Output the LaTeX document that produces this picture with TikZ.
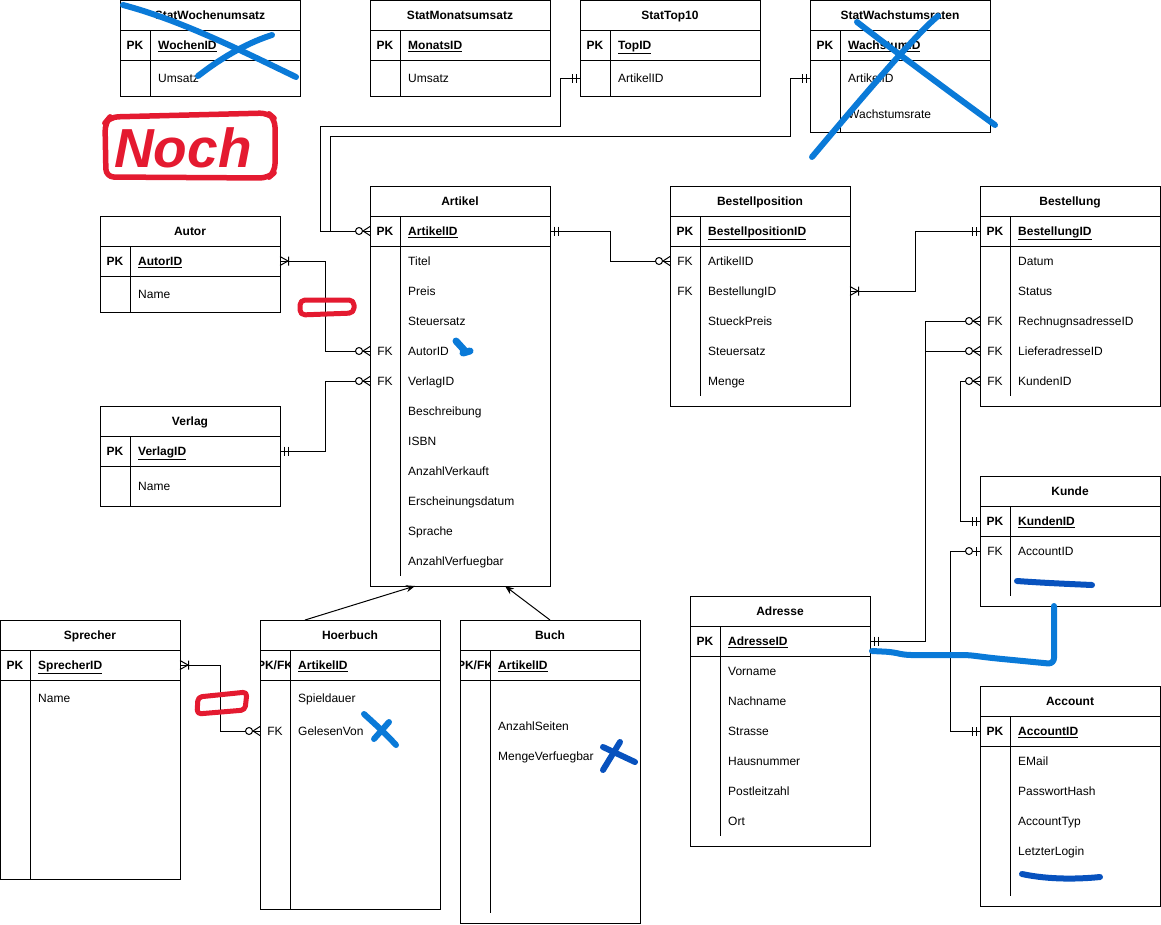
\documentclass[tikz,border=0pt]{standalone}
\usepackage{fontspec}
\setmainfont{Liberation Sans}
\usetikzlibrary{arrows.meta,calc}

\definecolor{penblue}{RGB}{10,122,216}
\definecolor{pendark}{RGB}{8,82,190}
\definecolor{penred}{RGB}{228,26,48}

\tikzset{
  er/.style={line width=1pt, black},
  frame/.style={draw, line width=1pt, inner sep=0pt, outer sep=0pt, minimum width=180pt, anchor=north west},
  rowbox/.style={inner sep=0pt, outer sep=0pt, minimum width=180pt, minimum height=30pt},
  titletxt/.style={font=\fontsize{12}{14}\selectfont\bfseries, inner sep=0pt, anchor=base},
  keytxt/.style={font=\fontsize{12}{14}\selectfont, inner sep=0pt, anchor=base},
  fldtxt/.style={font=\fontsize{12}{14}\selectfont, inner sep=0pt, anchor=base west},
  pen/.style={line width=6pt, line cap=round, line join=round},
}

\newcommand{\entity}[6]{%
  \node[frame, minimum height=#4pt] (#1) at (#2,#3) {};
  \node[titletxt] (#1-t) at (#2+90,#3+19.3) {#6};
  \draw[er] (#2,#3+30) -- ++(180,0) (#2,#3+60) -- ++(180,0) (#2+30,#3+30) -- (#2+30,#5);
}
\newcommand{\fld}[5]{%
  \node[rowbox] (#1) at (#2+90,#3) {};
  \node[keytxt] (#1-k) at (#2+15,#3+4.3) {#4};
  \node[fldtxt] (#1-f) at (#2+38,#3+4.3) {#5};
}
\newcommand{\pkfld}[5]{\fld{#1}{#2}{#3}{\textbf{#4}}{\textbf{\underline{#5}}}}
\newcommand{\pkfkfld}[4]{%
  \node[rowbox] (#1) at (#2+90,#3) {};
  \begin{scope}
    \clip (#2,#3-15) rectangle (#2+30,#3+15);
    \node[keytxt] (#1-k) at (#2+15,#3+4.3) {\textbf{PK/FK}};
  \end{scope}
  \node[fldtxt] (#1-f) at (#2+38,#3+4.3) {\textbf{\underline{#4}}};
}
\newcommand{\fields}[4]{%
  \foreach \k/\f [count=\i from 0] in {#4} {\fld{#1-\f}{#2}{#3+30*\i}{\k}{\f}}
}

\newcommand{\zeromany}[2]{\begin{scope}[shift={(#1)},rotate=#2]
  \draw[er] (0,4.5) -- (7,0) -- (0,-4.5);
  \draw[er,fill=white] (11,0) circle (3.5);
\end{scope}}
\newcommand{\onemany}[2]{\begin{scope}[shift={(#1)},rotate=#2]
  \draw[er] (0,4.5) -- (8,0) -- (0,-4.5) (8.5,-4.5) -- (8.5,4.5);
\end{scope}}
\newcommand{\mandone}[2]{\begin{scope}[shift={(#1)},rotate=#2]
  \draw[er] (4,-4.5) -- (4,4.5) (8,-4.5) -- (8,4.5);
\end{scope}}
\newcommand{\zeroone}[2]{\begin{scope}[shift={(#1)},rotate=#2]
  \draw[er] (4,-4.5) -- (4,4.5);
  \draw[er,fill=white] (11,0) circle (3.5);
\end{scope}}

\begin{document}
\begin{tikzpicture}[x=1pt,y=-1pt]
\useasboundingbox (0,0) rectangle (1161,924);

\entity{wochen}{120}{0}{96}{96}{StatWochenumsatz}
\pkfld{wochen-pk}{120}{45}{PK}{WochenID}
\fld{wochen-Umsatz}{120}{78}{}{Umsatz}

\entity{monat}{370}{0}{96}{96}{StatMonatsumsatz}
\pkfld{monat-pk}{370}{45}{PK}{MonatsID}
\fld{monat-Umsatz}{370}{78}{}{Umsatz}

\entity{top10}{580}{0}{96}{96}{StatTop10}
\pkfld{top10-pk}{580}{45}{PK}{TopID}
\fld{top10-ArtikelID}{580}{78}{}{ArtikelID}

\entity{wachs}{810}{0}{132}{132}{StatWachstumsraten}
\pkfld{wachs-pk}{810}{45}{PK}{WachstumID}
\fld{wachs-ArtikelID}{810}{78}{}{ArtikelID}
\fld{wachs-Wachstumsrate}{810}{114}{}{Wachstumsrate}

\entity{art}{370}{186}{400}{576}{Artikel}
\pkfld{art-pk}{370}{231}{PK}{ArtikelID}
\fields{art}{370}{261}{/Titel,/Preis,/Steuersatz,FK/AutorID,FK/VerlagID,/Beschreibung,/ISBN,/AnzahlVerkauft,/Erscheinungsdatum,/Sprache,/AnzahlVerfuegbar}

\entity{autor}{100}{216}{96}{312}{Autor}
\pkfld{autor-pk}{100}{261}{PK}{AutorID}
\fld{autor-Name}{100}{294}{}{Name}

\entity{verlag}{100}{406}{100}{506}{Verlag}
\pkfld{verlag-pk}{100}{451}{PK}{VerlagID}
\fld{verlag-Name}{100}{486}{}{Name}

\entity{pos}{670}{186}{220}{396}{Bestellposition}
\pkfld{pos-pk}{670}{231}{PK}{BestellpositionID}
\fields{pos}{670}{261}{FK/ArtikelID,FK/BestellungID,/StueckPreis,/Steuersatz,/Menge}

\entity{bst}{980}{186}{220}{396}{Bestellung}
\pkfld{bst-pk}{980}{231}{PK}{BestellungID}
\fields{bst}{980}{261}{/Datum,/Status,FK/RechnugnsadresseID,FK/LieferadresseID,FK/KundenID}

\entity{kd}{980}{476}{130}{596}{Kunde}
\pkfld{kd-pk}{980}{521}{PK}{KundenID}
\fld{kd-AccountID}{980}{551}{FK}{AccountID}

\entity{adr}{690}{596}{250}{836}{Adresse}
\pkfld{adr-pk}{690}{641}{PK}{AdresseID}
\fields{adr}{690}{671}{/Vorname,/Nachname,/Strasse,/Hausnummer,/Postleitzahl,/Ort}

\entity{acc}{980}{686}{220}{896}{Account}
\pkfld{acc-pk}{980}{731}{PK}{AccountID}
\fields{acc}{980}{761}{/EMail,/PasswortHash,/AccountTyp,/LetzterLogin}

\entity{spr}{0}{620}{259}{879}{Sprecher}
\pkfld{spr-pk}{0}{665}{PK}{SprecherID}
\fld{spr-Name}{0}{698}{}{Name}

\entity{hb}{260}{620}{289}{909}{Hoerbuch}
\pkfkfld{hb-pk}{260}{665}{ArtikelID}
\fld{hb-Spieldauer}{260}{698}{}{Spieldauer}
\fld{hb-GelesenVon}{260}{731}{FK}{GelesenVon}

\entity{buch}{460}{620}{303}{913}{Buch}
\pkfkfld{buch-pk}{460}{665}{ArtikelID}
\fld{buch-AnzahlSeiten}{460}{726}{}{AnzahlSeiten}
\fld{buch-MengeVerfuegbar}{460}{756}{}{MengeVerfuegbar}

\draw[er] (top10-ArtikelID.west) -- ++(-20,0) -- ++(0,48.5) -| ($(art-pk.west)+(-50,0)$) -- (art-pk.west);
\draw[er] (wachs-ArtikelID.west) -- ++(-20,0) -- ++(0,58) -| ($(art-pk.west)+(-40,0)$) -- (art-pk.west);
\draw[er] (autor-pk.east) -- ++(45,0) |- (art-AutorID.west);
\draw[er] (verlag-pk.east) -- ++(45,0) |- (art-VerlagID.west);
\draw[er] (art-pk.east) -- ++(60,0) |- (pos-ArtikelID.west);
\draw[er] (pos-BestellungID.east) -- ++(65,0) |- (bst-pk.west);
\draw[er] (bst-RechnugnsadresseID.west) -- ++(-55,0) |- (adr-pk.east);
\draw[er] (bst-LieferadresseID.west) -- ++(-55,0) |- (adr-pk.east);
\draw[er] (bst-KundenID.west) -- ++(-20,0) |- (kd-pk.west);
\draw[er] (kd-AccountID.west) -- ++(-30,0) |- (acc-pk.west);
\draw[er] (spr-pk.east) -- ++(40,0) |- (hb-GelesenVon.west);
\draw[er, -{Stealth[length=9pt,width=7pt]}] ($(hb.north west)+(45,0)$) -- ($(art.south)+(-45,0)$);
\draw[er, -{Stealth[length=9pt,width=7pt]}] (buch.north) -- ($(art.south)+(45,0)$);

\zeromany{art-pk.west}{180}
\mandone{top10-ArtikelID.west}{180}
\mandone{wachs-ArtikelID.west}{180}
\onemany{autor-pk.east}{0}
\zeromany{art-AutorID.west}{180}
\mandone{verlag-pk.east}{0}
\zeromany{art-VerlagID.west}{180}
\mandone{art-pk.east}{0}
\zeromany{pos-ArtikelID.west}{180}
\onemany{pos-BestellungID.east}{0}
\mandone{bst-pk.west}{180}
\zeromany{bst-RechnugnsadresseID.west}{180}
\zeromany{bst-LieferadresseID.west}{180}
\zeromany{bst-KundenID.west}{180}
\mandone{adr-pk.east}{0}
\mandone{kd-pk.west}{180}
\zeroone{kd-AccountID.west}{180}
\mandone{acc-pk.west}{180}
\onemany{spr-pk.east}{0}
\zeromany{hb-GelesenVon.west}{180}

\draw[pen, penblue] (123,5) .. controls (180,20) and (240,50) .. (296,77);
\draw[pen, penblue] (198,76) .. controls (225,55) and (250,42) .. (272,35);
\draw[pen, penblue] (857,22) .. controls (880,40) and (940,85) .. (995,125);
\draw[pen, penblue] (938,16) .. controls (915,35) and (860,100) .. (812,157);
\draw[pen, penred, line width=5.5pt, rounded corners=8] (105,123) -- (106,177) -- (268,178) -- (275,172) -- (275,119) -- (268,113) -- (110,117) -- cycle;
\node[penred, anchor=base west, inner sep=0pt, font=\fontsize{55}{55}\selectfont\bfseries\itshape] (noch) at (114,167) {Noch};
\draw[pen, penred, line width=5pt, rounded corners=5] (300,300) -- (354,300) -- (354,313) -- (300,315) -- cycle;
\draw[pen, penred, line width=5pt, rounded corners=4] (198,697) -- (247,692) -- (245,710) -- (197,714) -- cycle;
\draw[pen, penblue, line width=7pt] (456,341) -- (466,352);
\draw[pen, penblue, line width=7pt] (463,353) -- (470,351);
\draw[pen, penblue] (364,714) .. controls (375,724) and (386,734) .. (396,745);
\draw[pen, penblue] (389,722) -- (374,739);
\draw[pen, pendark] (620,742) -- (603,770);
\draw[pen, pendark] (603,747) -- (635,762);
\draw[pen, pendark] (1017,581) .. controls (1045,583) and (1070,584) .. (1092,585);
\draw[pen, pendark] (1022,874) .. controls (1050,880) and (1080,879) .. (1100,877);
\draw[pen, penblue, rounded corners=6] (872,651) -- (892,652) -- (905,655) -- (968,655) -- (992,658) -- (1054,664) -- (1054,606);
\end{tikzpicture}
\end{document}
